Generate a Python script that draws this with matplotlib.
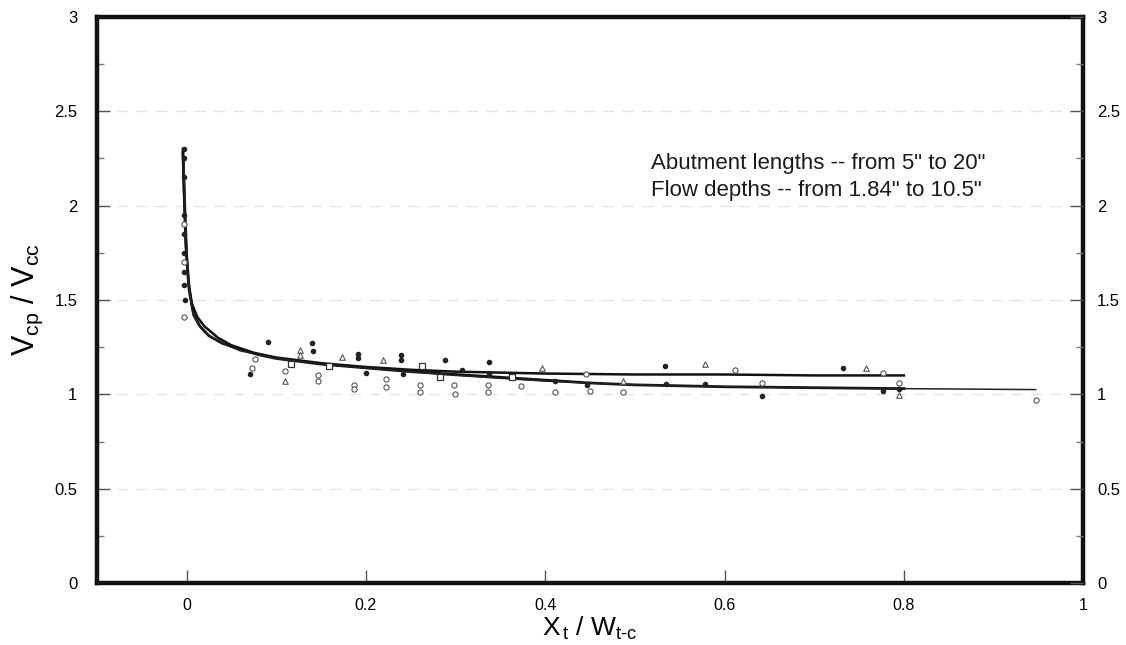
import matplotlib
matplotlib.use("Agg")
import matplotlib.pyplot as plt
from matplotlib.ticker import MultipleLocator

plt.rcParams['font.family'] = ['Liberation Sans', 'DejaVu Sans']
plt.rcParams['mathtext.fontset'] = 'custom'
plt.rcParams['mathtext.rm'] = 'Liberation Sans'
plt.rcParams['mathtext.it'] = 'Liberation Sans'

# Fitted curves
curveA_x = [-0.004, -0.003, -0.001, 0.002, 0.006, 0.012, 0.02, 0.035, 0.05, 0.075, 0.1, 0.15, 0.2, 0.25, 0.3, 0.35, 0.4, 0.5, 0.6, 0.7, 0.8]
curveA_y = [2.30, 2.10, 1.80, 1.60, 1.48, 1.41, 1.36, 1.30, 1.26, 1.22, 1.195, 1.165, 1.145, 1.13, 1.12, 1.115, 1.11, 1.105, 1.105, 1.10, 1.10]
curveB_x = [-0.004, -0.002, 0.0, 0.003, 0.008, 0.015, 0.025, 0.04, 0.06, 0.08, 0.1, 0.15, 0.2, 0.25, 0.3, 0.35, 0.4, 0.45, 0.5, 0.6, 0.7, 0.8]
curveB_y = [2.28, 2.00, 1.75, 1.55, 1.42, 1.36, 1.31, 1.27, 1.24, 1.21, 1.19, 1.16, 1.14, 1.12, 1.105, 1.09, 1.075, 1.06, 1.05, 1.04, 1.035, 1.03]
curveC_x = [-0.003, -0.001, 0.002, 0.006, 0.012, 0.02, 0.035, 0.06, 0.1, 0.15, 0.2, 0.3, 0.4, 0.5, 0.6, 0.7, 0.8, 0.947]
curveC_y = [2.25, 1.90, 1.60, 1.45, 1.38, 1.33, 1.28, 1.23, 1.19, 1.16, 1.14, 1.10, 1.07, 1.05, 1.04, 1.035, 1.03, 1.025]

# Measured points
filled_x = [-0.003, -0.003, -0.003, -0.003, -0.003, -0.003, -0.003, -0.003, -0.002, 0.091, 0.071, 0.14, 0.141, 0.191, 0.191, 0.2, 0.239, 0.239, 0.241, 0.288, 0.307, 0.337, 0.337, 0.411, 0.447, 0.534, 0.535, 0.578, 0.642, 0.732, 0.777, 0.795]
filled_y = [2.30, 2.25, 2.15, 1.95, 1.85, 1.75, 1.65, 1.58, 1.50, 1.275, 1.105, 1.27, 1.23, 1.216, 1.19, 1.115, 1.21, 1.18, 1.105, 1.18, 1.13, 1.17, 1.105, 1.07, 1.05, 1.15, 1.056, 1.056, 0.99, 1.14, 1.02, 1.03]
open_x = [-0.003, -0.003, -0.003, 0.076, 0.073, 0.11, 0.147, 0.147, 0.187, 0.187, 0.222, 0.222, 0.26, 0.26, 0.298, 0.299, 0.336, 0.336, 0.373, 0.411, 0.445, 0.45, 0.487, 0.612, 0.642, 0.777, 0.795, 0.947]
open_y = [1.41, 1.70, 1.90, 1.186, 1.14, 1.125, 1.10, 1.07, 1.05, 1.03, 1.08, 1.04, 1.05, 1.01, 1.05, 1.00, 1.05, 1.01, 1.046, 1.01, 1.105, 1.015, 1.01, 1.13, 1.06, 1.115, 1.06, 0.97]
tri_x = [0.11, 0.127, 0.127, 0.173, 0.219, 0.397, 0.487, 0.578, 0.758, 0.795]
tri_y = [1.07, 1.237, 1.21, 1.195, 1.184, 1.14, 1.07, 1.16, 1.14, 0.995]
sq_x = [0.117, 0.159, 0.263, 0.283, 0.363]
sq_y = [1.16, 1.15, 1.15, 1.09, 1.09]

xticks = [0, 0.2, 0.4, 0.6, 0.8, 1]
xticklabels = ['0', '0.2', '0.4', '0.6', '0.8', '1']
yticks = [0, 0.5, 1, 1.5, 2, 2.5, 3]
yticklabels = ['0', '0.5', '1', '1.5', '2', '2.5', '3']

fig = plt.figure(figsize=(11.26, 6.45), dpi=100)
ax = fig.add_axes([0.086, 0.096, 0.876, 0.878])

for g in [0.5, 1, 1.5, 2, 2.5]:
    ax.axhline(g, color='#e4e4e4', lw=1.0, ls=(0, (8, 6)), zorder=0)

ax.plot(curveA_x, curveA_y, color='#111111', lw=1.8, zorder=3)
ax.plot(curveB_x, curveB_y, color='#111111', lw=2.0, zorder=3)
ax.plot(curveC_x, curveC_y, color='#222222', lw=1.1, zorder=3)

ax.scatter(filled_x, filled_y, s=9, color='#222222', marker='o', zorder=4)
ax.scatter(open_x, open_y, s=14, facecolors='white', edgecolors='#555555', linewidths=0.8, marker='o', zorder=4)
ax.scatter(tri_x, tri_y, s=16, facecolors='white', edgecolors='#555555', linewidths=0.8, marker='^', zorder=4)
ax.scatter(sq_x, sq_y, s=14, facecolors='white', edgecolors='#333333', linewidths=0.9, marker='s', zorder=4)

ax.set_xlim(-0.1, 1.0)
ax.set_ylim(0, 3)
ax.set_xticks(xticks)
ax.set_xticklabels(xticklabels)
ax.set_yticks(yticks)
ax.set_yticklabels(yticklabels)
ax.yaxis.set_minor_locator(MultipleLocator(0.25))

for s in ax.spines.values():
    s.set_linewidth(3.2)
    s.set_color('#111111')

ax.tick_params(axis='x', which='major', direction='in', length=9.5, width=1.0, color='#555555', labelsize=11.5, pad=11)
ax.tick_params(axis='y', which='major', direction='in', length=9.5, width=1.0, color='#555555', labelsize=12, pad=14)
ax.tick_params(axis='y', which='minor', direction='in', length=5, width=1.0, color='#777777')

# right-hand duplicate scale
ax2 = ax.twinx()
ax2.set_ylim(0, 3)
ax2.set_yticks(yticks)
ax2.set_yticklabels(yticklabels)
ax2.yaxis.set_minor_locator(MultipleLocator(0.25))
ax2.tick_params(axis='y', which='major', direction='in', length=9.5, width=1.0, color='#555555', labelsize=12, pad=10)
ax2.tick_params(axis='y', which='minor', direction='in', length=5, width=1.0, color='#777777')
for s in ax2.spines.values():
    s.set_visible(False)

ax.text(0.518, 2.196, 'Abutment lengths -- from 5" to 20"', fontsize=16, ha='left', va='baseline', color='#1a1a1a')
ax.text(0.518, 2.053, 'Flow depths -- from 1.84" to 10.5"', fontsize=16, ha='left', va='baseline', color='#1a1a1a')

ax.set_ylabel(r'$\mathrm{V_{cp}}$ / $\mathrm{V_{cc}}$', fontsize=22)
ax.yaxis.set_label_coords(-0.053, 0.5)
ax.set_xlabel(r'$\mathrm{X_{\,t}}$ / $\mathrm{W_{t\text{-}c}}$', fontsize=19, labelpad=1)

fig.savefig('out.png', dpi=100)
